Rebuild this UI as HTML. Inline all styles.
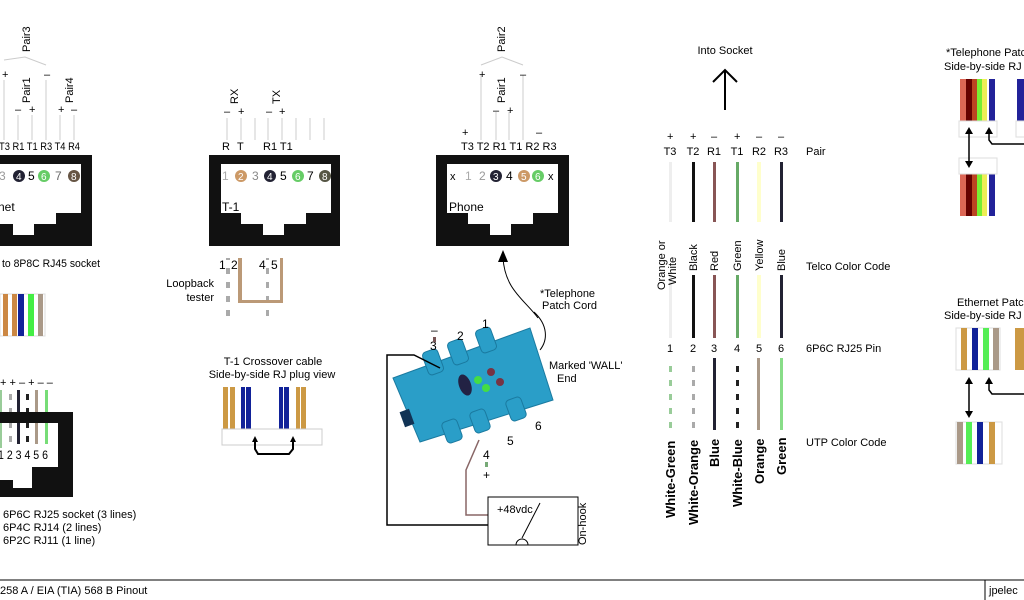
<!DOCTYPE html>
<html><head><meta charset="utf-8"><style>
html,body{margin:0;padding:0;background:#fff;}
svg{display:block;font-family:"Liberation Sans",sans-serif;}
</style></head><body>
<svg width="1024" height="600" viewBox="0 0 1024 600" xmlns="http://www.w3.org/2000/svg">
<defs>
<pattern id="stG" width="6" height="14" patternUnits="userSpaceOnUse"><rect width="6" height="14" fill="#fff"/><rect y="2" width="6" height="6" fill="#9c9"/></pattern>
<pattern id="stO" width="6" height="14" patternUnits="userSpaceOnUse"><rect width="6" height="14" fill="#fff"/><rect y="2" width="6" height="6" fill="#aaa"/></pattern>
<pattern id="stB" width="6" height="14" patternUnits="userSpaceOnUse"><rect width="6" height="14" fill="#fff"/><rect y="2" width="6" height="6" fill="#222"/></pattern>
</defs>
<g font-size="11" fill="#000">

<!-- ===== Ethernet socket (left) ===== -->
<g stroke="#ccc" stroke-width="1">
<line x1="4" y1="80" x2="4" y2="140"/><line x1="18" y1="115" x2="18" y2="140"/><line x1="32" y1="115" x2="32" y2="140"/>
<line x1="46" y1="80" x2="46" y2="140"/><line x1="60" y1="115" x2="60" y2="140"/><line x1="74" y1="115" x2="74" y2="140"/>
<polyline points="4,60 25,57 46,65" fill="none"/>
</g>
<text x="2" y="78">+</text><text x="44" y="78">–</text>
<text x="15" y="113">–</text><text x="29" y="113">+</text><text x="58" y="113">+</text><text x="71" y="113">–</text>
<text transform="translate(30,52) rotate(-90)">Pair3</text>
<text transform="translate(30,103) rotate(-90)">Pair1</text>
<text transform="translate(73,103) rotate(-90)">Pair4</text>
<text x="-1" y="150" textLength="81" lengthAdjust="spacingAndGlyphs">T3 R1 T1 R3 T4 R4</text>
<path d="M-40,155 H92 V246 H-40 Z M-28,164 V213 H-7 V224 H13 V235 H34 V224 H56 V213 H81 V164 Z" fill="#111" fill-rule="evenodd"/>
<text x="-1" y="180" font-size="12" fill="#999">3</text>
<circle cx="19" cy="176" r="6" fill="#223"/><text x="16" y="180" fill="#fff" font-size="10">4</text>
<text x="28" y="180" font-size="12">5</text>
<circle cx="44" cy="176" r="6" fill="#6c6"/><text x="41" y="180" fill="#fff" font-size="10">6</text>
<text x="55" y="180" font-size="12" fill="#666">7</text>
<circle cx="74" cy="176" r="6" fill="#654"/><text x="71" y="180" fill="#fff" font-size="10">8</text>
<text x="-2" y="211" font-size="12">net</text>
<text x="2" y="267" font-size="11" textLength="98" lengthAdjust="spacingAndGlyphs">to 8P8C RJ45 socket</text>

<!-- left plug strips -->
<g>
<rect x="0" y="294" width="45" height="42" fill="#fff" stroke="#ddd"/>
<rect x="3" y="294" width="5" height="42" fill="#c84"/><rect x="12" y="294" width="5" height="42" fill="#c84"/>
<rect x="18" y="294" width="6" height="42" fill="#129"/><rect x="28" y="294" width="6" height="42" fill="#4e4"/>
<rect x="38" y="294" width="5" height="42" fill="#a98"/>
</g>

<!-- 6P6C socket bottom-left -->
<text x="0" y="386" font-size="11">+ + – + – –</text>
<path d="M-40,412 H73 V497 H-40 Z M-28,423 V480 H13 V488 H32 V467 H58 V423 Z" fill="#111" fill-rule="evenodd"/>
<rect x="0" y="390" width="2" height="58" fill="#9c9"/><rect x="9" y="390" width="3" height="54" fill="url(#stO)"/>
<rect x="17" y="390" width="3" height="54" fill="#223"/><rect x="26" y="390" width="3" height="54" fill="url(#stB)"/>
<rect x="35" y="390" width="3" height="54" fill="#a98"/><rect x="45" y="390" width="3" height="54" fill="#7d7"/>
<rect x="0" y="412" width="50" height="11" fill="#111"/>
<text x="-2" y="459" font-size="12" textLength="50" lengthAdjust="spacingAndGlyphs">1 2 3 4 5 6</text>
<text x="3" y="518">6P6C RJ25 socket (3 lines)</text>
<text x="3" y="531">6P4C RJ14 (2 lines)</text>
<text x="3" y="544">6P2C RJ11 (1 line)</text>

<!-- ===== T-1 socket ===== -->
<g stroke="#ccc"><line x1="227" y1="118" x2="227" y2="140"/><line x1="241" y1="118" x2="241" y2="140"/><line x1="255" y1="118" x2="255" y2="140"/><line x1="268" y1="118" x2="268" y2="140"/><line x1="282" y1="118" x2="282" y2="140"/><line x1="296" y1="118" x2="296" y2="140"/><line x1="310" y1="118" x2="310" y2="140"/><line x1="324" y1="118" x2="324" y2="140"/></g>
<text x="224" y="115">–</text><text x="238" y="115">+</text><text x="266" y="115">–</text><text x="279" y="115">+</text>
<text transform="translate(238,104) rotate(-90)">RX</text>
<text transform="translate(280,104) rotate(-90)">TX</text>
<text x="222" y="150">R</text><text x="237" y="150">T</text><text x="263" y="150">R1 T1</text>
<path d="M209,155 H340 V246 H209 Z M221,164 V213 H241 V224 H263 V235 H284 V224 H306 V213 H331 V164 Z" fill="#111" fill-rule="evenodd"/>
<text x="222" y="180" font-size="12" fill="#aaa">1</text>
<circle cx="241" cy="176" r="6" fill="#c96"/><text x="238" y="180" fill="#fff" font-size="10">2</text>
<text x="252" y="180" font-size="12" fill="#888">3</text>
<circle cx="270" cy="176" r="6" fill="#223"/><text x="267" y="180" fill="#fff" font-size="10">4</text>
<text x="280" y="180" font-size="12">5</text>
<circle cx="298" cy="176" r="6" fill="#6c6"/><text x="295" y="180" fill="#fff" font-size="10">6</text>
<text x="307" y="180" font-size="12">7</text>
<circle cx="325" cy="176" r="6" fill="#554"/><text x="322" y="180" fill="#fff" font-size="10">8</text>
<text x="222" y="211" font-size="12">T-1</text>

<!-- loopback -->
<text x="219" y="269" font-size="12">1</text><text x="231" y="269" font-size="12">2</text>
<text x="259" y="269" font-size="12">4</text><text x="271" y="269" font-size="12">5</text>
<rect x="226" y="258" width="4" height="60" fill="url(#stO)"/><rect x="238" y="258" width="4" height="44" fill="#b97"/>
<rect x="266" y="258" width="3" height="60" fill="url(#stO)"/><rect x="280" y="258" width="3" height="44" fill="#b97"/>
<rect x="238" y="300" width="45" height="3" fill="#b97"/>
<rect x="226" y="316" width="43" height="3" fill="url(#stO)"/>
<text x="214" y="287" text-anchor="end">Loopback</text><text x="214" y="301" text-anchor="end">tester</text>

<!-- T-1 crossover -->
<text x="273" y="365" text-anchor="middle">T-1 Crossover cable</text>
<text x="272" y="378" text-anchor="middle">Side-by-side RJ plug view</text>
<rect x="223" y="387" width="5" height="42" fill="#c94"/><rect x="230" y="387" width="5" height="42" fill="#c94"/>
<rect x="241" y="387" width="4" height="42" fill="#129"/><rect x="246" y="387" width="5" height="42" fill="#129"/>
<rect x="279" y="387" width="4" height="42" fill="#129"/><rect x="284" y="387" width="5" height="42" fill="#129"/>
<rect x="296" y="387" width="4" height="42" fill="#c94"/><rect x="301" y="387" width="5" height="42" fill="#c94"/>
<g stroke="#ccc" fill="none"><rect x="222" y="429" width="100" height="16"/></g>
<path d="M255,440 V449 L258,454 H289 L293,449 V440" fill="none" stroke="#000" stroke-width="2"/>
<path d="M252,442 L255,436 L258,442 Z M290,442 L293,436 L296,442 Z" fill="#000"/>

<!-- ===== Phone socket ===== -->
<g stroke="#ccc" fill="none"><line x1="481" y1="75" x2="481" y2="140"/><line x1="496" y1="112" x2="496" y2="140"/><line x1="509" y1="112" x2="509" y2="140"/><line x1="523" y1="75" x2="523" y2="140"/><polyline points="481,65 502,57 523,65"/></g>
<text x="462" y="136">+</text><text x="479" y="78">+</text><text x="520" y="78">–</text><text x="493" y="114">–</text><text x="507" y="114">+</text><text x="536" y="136">–</text>
<text transform="translate(505,52) rotate(-90)">Pair2</text>
<text transform="translate(505,103) rotate(-90)">Pair1</text>
<text x="461" y="150">T3 T2 R1 T1 R2 R3</text>
<path d="M436,155 H569 V246 H436 Z M447,164 V213 H468 V224 H490 V235 H511 V224 H533 V213 H558 V164 Z" fill="#111" fill-rule="evenodd"/>
<text x="450" y="180" font-size="11">x</text>
<text x="465" y="180" font-size="12" fill="#aaa">1</text><text x="479" y="180" font-size="12" fill="#999">2</text>
<circle cx="496" cy="176" r="6" fill="#223"/><text x="493" y="180" fill="#fff" font-size="10">3</text>
<text x="506" y="180" font-size="12">4</text>
<circle cx="524" cy="176" r="6" fill="#c96"/><text x="521" y="180" fill="#fff" font-size="10">5</text>
<circle cx="538" cy="176" r="6" fill="#6c6"/><text x="535" y="180" fill="#fff" font-size="10">6</text>
<text x="548" y="180" font-size="11">x</text>
<text x="449" y="211" font-size="12">Phone</text>

<!-- patch cord arrow -->
<path d="M538,318 C525,300 505,290 503,258" fill="none" stroke="#000" stroke-width="1"/>
<path d="M498,262 L503,250 L508,262 Z" fill="#000"/>
<text x="540" y="297">*Telephone</text><text x="542" y="309">Patch Cord</text>
<path d="M534,312 C548,325 548,340 540,350" fill="none" stroke="#000"/>
<text x="549" y="369">Marked 'WALL'</text><text x="557" y="382">End</text>

<!-- device -->
<polygon points="393,378 530,328 553,400 420,442" fill="#2a9ec8" stroke="#1a7aa0"/>
<g fill="#2a9ec8" stroke="#1a7aa0">
<rect x="425" y="350" width="16" height="24" rx="4" transform="rotate(-20 433 362)"/>
<rect x="450" y="340" width="16" height="24" rx="4" transform="rotate(-20 458 352)"/>
<rect x="478" y="328" width="16" height="24" rx="4" transform="rotate(-20 486 340)"/>
<rect x="444" y="420" width="16" height="22" rx="4" transform="rotate(-20 452 431)"/>
<rect x="472" y="410" width="16" height="22" rx="4" transform="rotate(-20 480 421)"/>
<rect x="508" y="398" width="16" height="22" rx="4" transform="rotate(-20 516 409)"/>
</g>
<ellipse cx="465" cy="385" rx="6" ry="11" fill="#224" transform="rotate(-20 465 385)"/>
<circle cx="478" cy="380" r="4" fill="#4d4"/><circle cx="486" cy="388" r="4" fill="#4d4"/>
<circle cx="491" cy="372" r="4" fill="#734"/><circle cx="500" cy="382" r="4" fill="#734"/>
<rect x="402" y="410" width="10" height="16" fill="#135" transform="rotate(-20 407 418)"/>
<text x="457" y="340" font-size="12">2</text><text x="482" y="328" font-size="12">1</text>
<text x="430" y="350" font-size="12">3</text><text x="431" y="334" font-size="12">–</text>
<rect x="433" y="337" width="3" height="5" fill="#755"/>
<text x="507" y="445" font-size="12">5</text><text x="535" y="430" font-size="12">6</text>
<text x="483" y="459" font-size="12">4</text><rect x="485" y="462" width="3" height="5" fill="#7a7"/><text x="483" y="479" font-size="12">+</text>

<!-- wiring -->
<polyline points="440,368 414,355 387,355 387,525 488,525" fill="none" stroke="#000" stroke-width="1.5"/>
<polyline points="479,440 466,470 466,515 488,515" fill="none" stroke="#866" stroke-width="1.5"/>
<rect x="488" y="497" width="90" height="48" fill="#fff" stroke="#000"/>
<text x="497" y="513">+48vdc</text>
<line x1="540" y1="503" x2="522" y2="538" stroke="#000"/>
<path d="M516,545 A6,6 0 0 1 528,545" fill="none" stroke="#000"/>
<text transform="translate(586,545) rotate(-90)">On-hook</text>

<!-- ===== Color chart ===== -->
<text x="725" y="54" text-anchor="middle">Into Socket</text>
<line x1="725" y1="70" x2="725" y2="110" stroke="#000" stroke-width="2"/>
<polyline points="713,82 725,70 737,82" fill="none" stroke="#000" stroke-width="2"/>
<g font-size="11">
<text x="667" y="140">+</text><text x="690" y="140">+</text><text x="711" y="140">–</text><text x="734" y="140">+</text><text x="756" y="140">–</text><text x="778" y="140">–</text>
<text x="670" y="155" text-anchor="middle">T3</text><text x="693" y="155" text-anchor="middle">T2</text><text x="714" y="155" text-anchor="middle">R1</text><text x="737" y="155" text-anchor="middle">T1</text><text x="759" y="155" text-anchor="middle">R2</text><text x="781" y="155" text-anchor="middle">R3</text>
<text x="806" y="155">Pair</text>
<text x="806" y="270">Telco Color Code</text>
<text x="806" y="352">6P6C RJ25 Pin</text>
<text x="806" y="446">UTP Color Code</text>
</g>
<g>
<rect x="669" y="162" width="3" height="60" fill="#eee"/><rect x="692" y="162" width="3" height="60" fill="#111"/><rect x="713" y="162" width="3" height="60" fill="#855"/><rect x="736" y="162" width="3" height="60" fill="#6a6"/><rect x="757" y="162" width="4" height="60" fill="#ffc"/><rect x="780" y="162" width="3" height="60" fill="#223"/>
<rect x="669" y="275" width="3" height="63" fill="#eee"/><rect x="692" y="275" width="3" height="63" fill="#111"/><rect x="713" y="275" width="3" height="63" fill="#855"/><rect x="736" y="275" width="3" height="63" fill="#6a6"/><rect x="757" y="275" width="4" height="63" fill="#ffc"/><rect x="780" y="275" width="3" height="63" fill="#223"/>
<rect x="669" y="358" width="3" height="72" fill="url(#stG)"/><rect x="692" y="358" width="3" height="72" fill="url(#stO)"/><rect x="713" y="358" width="3" height="72" fill="#223"/><rect x="736" y="358" width="3" height="72" fill="url(#stB)"/><rect x="757" y="358" width="3" height="72" fill="#a98"/><rect x="780" y="358" width="3" height="72" fill="#8d8"/>
</g>
<g font-size="11">
<text transform="translate(665,290) rotate(-90)">Orange or</text><text transform="translate(676,285) rotate(-90)">White</text>
<text transform="translate(697,271) rotate(-90)">Black</text>
<text transform="translate(718,271) rotate(-90)">Red</text>
<text transform="translate(741,271) rotate(-90)">Green</text>
<text transform="translate(763,271) rotate(-90)">Yellow</text>
<text transform="translate(785,271) rotate(-90)">Blue</text>
<text x="670" y="352" text-anchor="middle">1</text><text x="693" y="352" text-anchor="middle">2</text><text x="714" y="352" text-anchor="middle">3</text><text x="737" y="352" text-anchor="middle">4</text><text x="759" y="352" text-anchor="middle">5</text><text x="781" y="352" text-anchor="middle">6</text>
</g>
<g font-size="13" font-weight="bold">
<text transform="translate(675,518) rotate(-90)">White-Green</text>
<text transform="translate(698,525) rotate(-90)">White-Orange</text>
<text transform="translate(719,467) rotate(-90)">Blue</text>
<text transform="translate(742,507) rotate(-90)">White-Blue</text>
<text transform="translate(764,484) rotate(-90)">Orange</text>
<text transform="translate(786,475) rotate(-90)">Green</text>
</g>

<!-- ===== right side ===== -->
<text x="946" y="56">*Telephone Patch</text>
<text x="944" y="70">Side-by-side RJ plug view</text>
<g>
<rect x="960" y="79" width="6" height="42" fill="#d65"/><rect x="966" y="79" width="6" height="42" fill="#600"/><rect x="972" y="79" width="5" height="42" fill="#b42"/><rect x="977" y="79" width="5" height="42" fill="#7e3"/><rect x="982" y="79" width="5" height="42" fill="#ee5"/><rect x="989" y="79" width="6" height="42" fill="#229"/>
<rect x="1017" y="79" width="7" height="42" fill="#229"/>
<rect x="960" y="174" width="6" height="42" fill="#d65"/><rect x="966" y="174" width="6" height="42" fill="#600"/><rect x="972" y="174" width="5" height="42" fill="#b42"/><rect x="977" y="174" width="5" height="42" fill="#7e3"/><rect x="982" y="174" width="5" height="42" fill="#ee5"/><rect x="989" y="174" width="6" height="42" fill="#229"/>
</g>
<g stroke="#ddd" fill="none"><rect x="959" y="121" width="38" height="16"/><rect x="959" y="158" width="38" height="16"/><rect x="1016" y="121" width="10" height="16"/></g>
<line x1="969" y1="130" x2="969" y2="164" stroke="#000" stroke-width="1.5"/>
<path d="M965,134 L969,127 L973,134 Z M965,161 L969,168 L973,161 Z" fill="#000"/>
<path d="M989,132 V140 L992,144 H1024" fill="none" stroke="#000" stroke-width="1.5"/>
<path d="M985,134 L989,127 L993,134 Z" fill="#000"/>

<text x="957" y="306">Ethernet Patch</text>
<text x="944" y="319">Side-by-side RJ plug view</text>
<g>
<rect x="956" y="328" width="44" height="42" fill="#fff" stroke="#ddd"/>
<rect x="961" y="328" width="6" height="42" fill="#c94"/><rect x="972" y="328" width="6" height="42" fill="#129"/><rect x="983" y="328" width="6" height="42" fill="#5e5"/><rect x="993" y="328" width="6" height="42" fill="#a98"/>
<rect x="1015" y="328" width="9" height="42" fill="#c94"/>
<rect x="956" y="422" width="46" height="42" fill="#fff" stroke="#ddd"/>
<rect x="957" y="422" width="6" height="42" fill="#a98"/><rect x="966" y="422" width="6" height="42" fill="#5e5"/><rect x="977" y="422" width="6" height="42" fill="#129"/><rect x="989" y="422" width="6" height="42" fill="#c94"/>
</g>
<line x1="969" y1="380" x2="969" y2="414" stroke="#000" stroke-width="1.5"/>
<path d="M965,384 L969,377 L973,384 Z M965,411 L969,418 L973,411 Z" fill="#000"/>
<path d="M989,382 V390 L992,394 H1024" fill="none" stroke="#000" stroke-width="1.5"/>
<path d="M985,384 L989,377 L993,384 Z" fill="#000"/>

<!-- footer -->
<line x1="0" y1="580" x2="1024" y2="580" stroke="#000"/>
<line x1="985" y1="580" x2="985" y2="600" stroke="#000"/>
<text x="0" y="594">258 A  /  EIA (TIA) 568 B  Pinout</text>
<text x="989" y="594">jpelec</text>
</g>
</svg>
</body></html>
